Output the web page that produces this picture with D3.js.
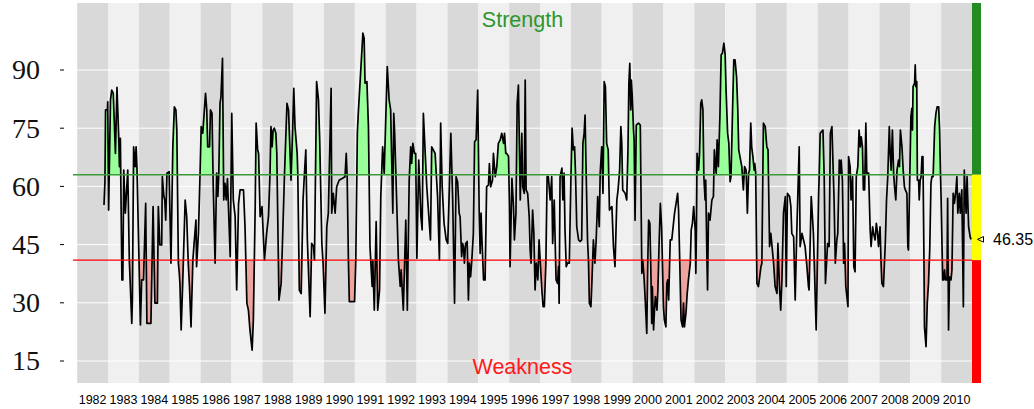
<!DOCTYPE html>
<html><head><meta charset="utf-8">
<script src="https://cdn.jsdelivr.net/npm/d3@7"></script>
<style>html,body{margin:0;padding:0;background:#fff;}svg{display:block;}</style>
</head><body>
<svg id="chart" width="1034" height="409"></svg>
<script>
// ---------- data ----------
const years = d3.range(1982, 2011);
const yTicks = [15, 30, 45, 60, 75, 90];
const strengthLevel = 63;
const weaknessLevel = 41;
const lastValue = 46.35;
const topLabel = "Strength";
const bottomLabel = "Weakness";

// [decimal year, value]
const seg1982 = [[1982.87,55.2],[1982.90,61.2],[1982.92,79.7],[1982.98,79.7],[1982.99,81.8],[1983.02,53.9],[1983.08,82.3],[1983.12,84.8],[1983.17,84.0],[1983.24,68.5],[1983.29,85.5],[1983.35,72.0],[1983.37,65.1],[1983.40,72.4],[1983.45,35.9],[1983.48,35.9],[1983.51,64.2],[1983.56,53.1],[1983.64,64.2],[1983.69,41.0],[1983.77,24.7],[1983.79,30.7],[1983.83,70.2],[1983.88,65.1],[1983.91,70.2],[1983.94,64.2],[1984.05,24.3],[1984.09,35.9],[1984.15,35.9],[1984.19,47.0],[1984.22,55.6],[1984.26,24.7],[1984.39,24.7],[1984.46,54.8],[1984.52,29.9],[1984.60,29.9],[1984.63,54.8],[1984.68,44.9],[1984.74,44.9],[1984.76,62.5],[1984.81,57.4],[1984.84,56.5],[1984.87,51.3],[1984.91,63.4],[1984.98,63.8],[1985.04,40.2],[1985.10,70.2],[1985.15,80.5],[1985.20,79.7]];
const seg1985 = [[1985.23,74.5],[1985.28,40.2],[1985.31,37.6],[1985.33,35.0],[1985.37,23.0],[1985.42,35.0],[1985.50,56.5],[1985.55,52.2],[1985.60,40.2],[1985.64,34.2],[1985.69,23.8],[1985.75,41.0],[1985.79,45.3],[1985.85,51.3],[1985.87,39.3],[1985.93,47.9],[1985.98,62.5],[1986.02,75.4],[1986.07,73.7],[1986.16,84.0],[1986.20,79.7],[1986.23,70.2],[1986.29,70.2],[1986.32,79.7],[1986.37,78.8],[1986.41,59.9],[1986.47,40.2],[1986.52,63.4],[1986.56,57.4],[1986.59,63.4],[1986.63,81.4],[1986.66,83.1],[1986.71,93.0],[1986.75,56.5],[1986.79,60.8],[1986.83,56.5],[1986.87,62.0],[1986.96,41.9],[1987.01,78.8],[1987.06,56.5],[1987.12,52.2],[1987.17,33.3],[1987.23,55.6],[1987.28,59.1],[1987.39,59.1],[1987.44,49.6],[1987.50,29.9],[1987.55,28.1],[1987.60,23.0],[1987.67,17.8],[1987.71,25.6],[1987.77,54.8],[1987.80,76.3],[1987.85,69.4],[1987.88,68.5],[1987.93,52.2],[1987.99,54.8],[1988.07,41.0]];
const seg1988 = [[1988.14,47.9],[1988.20,52.2],[1988.25,63.4],[1988.28,75.4],[1988.32,70.2],[1988.35,74.5],[1988.39,75.0],[1988.44,73.7],[1988.47,68.5],[1988.54,30.7],[1988.61,35.0],[1988.65,44.5],[1988.72,63.4],[1988.80,81.4],[1988.85,79.7],[1988.93,61.6],[1988.98,73.7],[1989.02,85.3],[1989.06,75.4],[1989.13,68.5],[1989.15,63.4],[1989.20,33.3],[1989.26,32.4],[1989.32,56.5],[1989.36,62.5],[1989.41,69.4],[1989.46,46.2],[1989.55,26.4],[1989.60,45.3],[1989.66,44.5],[1989.69,41.0],[1989.76,87.0],[1989.82,82.3],[1989.86,72.0],[1989.93,45.3],[1989.97,40.2],[1990.03,27.3],[1990.09,49.6],[1990.14,53.1],[1990.23,85.3],[1990.25,53.1],[1990.30,58.2],[1990.36,53.1],[1990.41,59.9],[1990.49,61.6],[1990.60,62.1],[1990.68,62.5],[1990.72,68.5],[1990.75,62.5],[1990.79,41.0],[1990.82,30.3],[1990.99,30.3],[1991.03,41.0],[1991.08,73.7],[1991.11,78.8],[1991.26,99.5]];
const seg1991 = [[1991.30,98.2],[1991.33,86.6],[1991.39,87.0],[1991.44,75.4],[1991.49,44.5],[1991.56,34.2],[1991.58,41.0],[1991.63,28.1],[1991.69,50.9],[1991.74,28.1],[1991.80,33.3],[1991.84,57.4],[1991.90,70.2],[1991.95,63.4],[1992.05,90.9],[1992.11,82.3],[1992.16,79.7],[1992.23,53.1],[1992.26,78.8],[1992.29,73.7],[1992.41,41.0],[1992.47,34.2],[1992.50,38.5],[1992.57,28.1],[1992.65,51.3],[1992.70,28.1],[1992.76,61.6],[1992.81,70.2],[1992.84,65.9],[1992.88,71.1],[1992.93,68.5],[1992.97,68.5],[1993.01,41.5],[1993.07,66.8],[1993.14,52.2],[1993.18,48.8],[1993.22,78.8],[1993.33,59.9],[1993.45,46.2],[1993.49,70.2],[1993.60,68.5],[1993.68,57.4],[1993.74,41.0],[1993.78,76.3],[1993.83,59.9],[1993.89,50.5],[1993.96,46.2],[1994.01,45.3],[1994.06,59.1],[1994.11,73.7],[1994.17,56.5],[1994.23,29.9]];
const seg1994 = [[1994.28,62.5],[1994.33,61.2],[1994.38,53.1],[1994.41,52.2],[1994.46,41.9],[1994.49,45.3],[1994.52,44.5],[1994.55,40.2],[1994.59,45.3],[1994.64,45.8],[1994.68,30.7],[1994.71,40.2],[1994.75,36.7],[1994.79,41.0],[1994.84,47.9],[1994.88,71.5],[1994.93,72.0],[1994.98,84.8],[1995.03,53.1],[1995.06,42.7],[1995.09,53.1],[1995.11,47.9],[1995.17,35.9],[1995.22,35.9],[1995.27,59.9],[1995.33,60.4],[1995.36,65.9],[1995.40,59.9],[1995.46,61.6],[1995.49,68.5],[1995.55,62.5],[1995.60,65.1],[1995.65,71.1],[1995.71,72.0],[1995.76,73.7],[1995.82,71.1],[1995.85,73.7],[1995.89,68.5],[1995.92,68.5],[1995.98,67.7],[1996.01,54.8],[1996.03,39.3],[1996.09,62.1],[1996.14,54.8],[1996.17,46.2],[1996.22,53.1],[1996.26,81.4],[1996.30,86.1],[1996.36,56.5],[1996.41,73.7],[1996.44,59.9],[1996.49,58.2],[1996.52,87.4],[1996.55,59.1],[1996.60,58.2],[1996.65,52.2],[1996.68,43.6],[1996.71,40.2],[1996.76,53.9],[1996.80,47.9],[1996.84,33.3],[1996.88,40.2],[1996.93,35.9],[1996.97,46.2],[1997.01,40.2],[1997.06,33.3],[1997.10,29.0],[1997.14,29.0],[1997.19,40.2],[1997.23,62.5],[1997.27,62.5]];
const seg1997 = [[1997.33,56.5],[1997.38,62.5],[1997.41,45.3],[1997.46,56.5],[1997.49,46.2],[1997.52,35.9],[1997.57,35.0],[1997.60,39.3],[1997.62,29.9],[1997.65,62.5],[1997.71,64.7],[1997.74,56.5],[1997.78,63.4],[1997.81,48.8],[1997.85,39.3],[1997.89,40.2],[1997.95,40.2],[1998.00,61.6],[1998.04,75.0],[1998.08,69.4],[1998.12,70.2],[1998.15,63.4],[1998.19,49.6],[1998.25,46.2],[1998.30,45.8],[1998.35,46.2],[1998.39,71.1],[1998.43,73.7],[1998.46,78.4],[1998.49,65.9],[1998.54,46.2],[1998.57,41.0],[1998.60,29.9],[1998.65,29.0],[1998.68,35.0],[1998.73,46.2],[1998.78,40.2],[1998.82,46.2],[1998.87,57.4],[1998.92,49.6],[1998.95,63.4],[1999.00,70.2],[1999.04,58.2],[1999.08,87.0],[1999.12,85.7],[1999.16,71.1],[1999.21,69.4],[1999.25,53.9],[1999.33,54.8],[1999.38,44.5],[1999.43,39.3],[1999.49,56.5],[1999.53,59.1],[1999.58,64.2],[1999.62,75.4],[1999.65,71.1],[1999.68,59.1],[1999.76,58.2],[1999.81,56.5],[1999.85,69.4],[1999.88,86.6],[1999.91,91.7],[1999.94,79.7],[1999.96,87.4],[1999.99,83.1],[2000.03,74.5],[2000.05,72.0],[2000.08,51.3],[2000.12,75.8],[2000.19,76.3],[2000.25,75.8],[2000.30,37.6],[2000.33,41.0],[2000.37,36.7]];
const seg2000 = [[2000.41,30.7],[2000.46,22.1],[2000.49,39.3],[2000.52,51.3],[2000.56,50.5],[2000.59,39.3],[2000.62,24.7],[2000.64,34.2],[2000.68,23.0],[2000.71,28.1],[2000.74,31.6],[2000.79,28.1],[2000.82,33.3],[2000.86,45.3],[2000.90,55.6],[2000.94,49.6],[2000.97,39.3],[2001.00,29.0],[2001.03,25.6],[2001.08,23.8],[2001.11,35.0],[2001.14,35.9],[2001.17,30.7],[2001.22,46.2],[2001.27,46.2],[2001.36,53.1],[2001.41,55.6],[2001.46,58.2],[2001.49,53.9],[2001.53,40.2],[2001.57,25.6],[2001.62,23.8],[2001.65,29.9],[2001.68,23.8],[2001.73,27.3],[2001.77,32.4],[2001.81,35.9],[2001.87,40.2],[2001.90,48.8],[2001.94,50.5],[2001.98,54.8],[2002.03,48.8],[2002.05,37.6],[2002.07,49.6],[2002.09,68.5],[2002.14,64.2],[2002.17,68.5],[2002.21,81.4],[2002.24,82.3],[2002.28,79.7],[2002.31,62.5],[2002.35,56.5],[2002.37,61.6],[2002.41,41.0],[2002.43,33.3],[2002.46,53.1],[2002.51,51.3],[2002.57,56.5],[2002.62,57.4],[2002.65,69.4],[2002.68,65.9],[2002.71,63.4],[2002.74,72.0],[2002.78,65.1],[2002.83,78.0],[2002.87,93.9],[2002.91,94.3],[2002.96,96.9],[2003.00,93.9],[2003.03,84.8],[2003.08,73.7],[2003.12,71.1],[2003.16,61.2],[2003.19,62.5],[2003.24,79.7],[2003.28,92.6],[2003.32,92.6],[2003.37,88.3],[2003.41,79.7],[2003.44,69.4]];
const seg2003 = [[2003.54,65.1],[2003.59,59.1],[2003.63,65.1],[2003.68,64.2],[2003.72,53.1],[2003.76,63.4],[2003.79,64.2],[2003.83,76.3],[2003.86,70.2],[2003.90,67.7],[2003.94,64.2],[2003.96,65.9],[2003.99,63.4],[2004.03,35.0],[2004.08,34.2],[2004.16,39.3],[2004.19,40.2],[2004.24,76.3],[2004.30,75.4],[2004.35,70.2],[2004.39,69.4],[2004.44,44.5],[2004.48,47.9],[2004.57,40.2],[2004.62,34.2],[2004.68,32.4],[2004.71,45.3],[2004.76,34.2],[2004.80,28.1],[2004.84,35.9],[2004.89,53.1],[2004.95,57.4],[2004.98,34.2],[2005.02,58.2],[2005.09,57.4],[2005.13,54.8],[2005.16,47.9],[2005.22,47.0],[2005.27,30.7],[2005.32,47.9],[2005.40,70.2],[2005.43,44.5],[2005.49,47.9],[2005.54,46.2],[2005.59,44.5],[2005.65,39.3],[2005.70,34.2],[2005.72,33.3],[2005.79,57.4],[2005.86,47.9],[2005.95,23.0],[2006.03,58.2],[2006.05,63.4],[2006.08,73.7],[2006.12,74.1],[2006.17,74.5],[2006.21,62.5],[2006.25,35.0],[2006.32,45.3],[2006.37,44.5],[2006.41,73.7],[2006.46,75.4],[2006.53,56.5]];
const seg2006 = [[2006.57,40.2],[2006.62,46.2],[2006.65,47.9],[2006.70,66.8],[2006.73,63.4],[2006.76,66.8],[2006.80,61.6],[2006.84,40.2],[2006.87,45.3],[2006.91,34.2],[2006.98,29.0],[2007.00,67.7],[2007.05,65.1],[2007.08,56.5],[2007.13,62.5],[2007.17,39.3],[2007.21,38.0],[2007.25,62.5],[2007.30,65.1],[2007.34,74.5],[2007.38,70.2],[2007.41,72.8],[2007.45,70.2],[2007.48,59.1],[2007.52,59.1],[2007.56,76.3],[2007.59,63.4],[2007.65,63.4],[2007.70,48.8],[2007.73,44.5],[2007.78,49.6],[2007.81,47.9],[2007.86,46.2],[2007.90,50.5],[2007.94,47.9],[2007.97,44.5],[2008.02,49.6],[2008.05,41.0],[2008.08,35.0],[2008.13,34.2],[2008.19,45.3],[2008.23,56.5],[2008.27,62.5],[2008.32,75.4],[2008.35,68.5],[2008.38,64.2],[2008.42,74.5],[2008.46,63.4],[2008.49,59.9],[2008.53,56.5],[2008.57,64.2],[2008.62,66.8],[2008.65,65.1],[2008.68,74.5],[2008.73,70.2],[2008.77,64.2],[2008.81,59.9]];
const seg2008 = [[2008.84,59.1],[2008.89,58.2],[2008.92,44.5],[2008.94,43.6],[2008.99,65.1],[2009.02,78.0],[2009.05,80.1],[2009.07,74.5],[2009.09,85.7],[2009.14,86.6],[2009.16,91.3],[2009.18,85.7],[2009.21,87.0],[2009.23,61.6],[2009.27,61.6],[2009.29,56.5],[2009.32,61.6],[2009.35,62.5],[2009.38,67.7],[2009.41,67.7],[2009.44,43.6],[2009.46,23.8],[2009.51,18.7],[2009.55,29.9],[2009.59,35.0],[2009.63,43.6],[2009.67,60.8],[2009.70,62.5],[2009.74,62.5],[2009.79,75.4],[2009.83,78.8],[2009.87,80.5],[2009.92,80.5],[2009.95,74.5],[2009.98,62.9],[2010.00,56.5],[2010.05,35.9],[2010.08,35.9],[2010.11,38.5],[2010.14,35.9],[2010.19,35.9],[2010.21,56.9],[2010.24,23.0],[2010.27,36.7],[2010.32,35.9],[2010.35,38.5],[2010.39,58.2],[2010.43,55.6],[2010.48,59.1],[2010.51,62.5],[2010.54,53.1],[2010.59,58.2],[2010.62,53.1],[2010.67,59.1],[2010.72,29.0],[2010.75,64.2],[2010.78,58.2],[2010.81,53.1],[2010.84,62.5],[2010.89,49.6],[2010.94,47.0],[2010.97,46.35]];

const series = [].concat(seg1982, seg1985, seg1988, seg1991, seg1994, seg1997, seg2000, seg2003, seg2006, seg2008);

// ---------- layout ----------
const svg = d3.select("#chart");
const plot = {left: 73, right: 972, top: 3, bottom: 383};
const x = d3.scaleLinear().domain([1981.865, 2011.0]).range([plot.left, plot.right]);
const y = d3.scaleLinear().domain([15, 90]).range([361, 70]);

// year bands
svg.append("g").selectAll("rect").data(years).join("rect")
  .attr("x", d => Math.max(x(d), plot.left))
  .attr("width", d => Math.min(x(d + 1), plot.right) - Math.max(x(d), plot.left))
  .attr("y", plot.top).attr("height", plot.bottom - plot.top)
  .attr("fill", (d, i) => i % 2 === 0 ? "#d9d9d9" : "#f0f0f0");

// horizontal grid
svg.append("g").selectAll("line").data(yTicks).join("line")
  .attr("x1", plot.left).attr("x2", plot.right)
  .attr("y1", d => y(d)).attr("y2", d => y(d))
  .attr("stroke", "#fff").attr("stroke-width", 1);

// clip paths
const defs = svg.append("defs");
defs.append("clipPath").attr("id", "clipUp").append("rect")
  .attr("x", plot.left).attr("width", plot.right - plot.left)
  .attr("y", plot.top).attr("height", y(strengthLevel) - plot.top);
defs.append("clipPath").attr("id", "clipDown").append("rect")
  .attr("x", plot.left).attr("width", plot.right - plot.left)
  .attr("y", y(weaknessLevel)).attr("height", plot.bottom - y(weaknessLevel));

const areaUp = d3.area().x(d => x(d[0])).y0(y(strengthLevel)).y1(d => y(d[1]));
const areaDown = d3.area().x(d => x(d[0])).y0(y(weaknessLevel)).y1(d => y(d[1]));
svg.append("path").datum(series).attr("d", areaUp).attr("fill", "#99ff99").attr("clip-path", "url(#clipUp)");
svg.append("path").datum(series).attr("d", areaDown).attr("fill", "#eea49e").attr("clip-path", "url(#clipDown)");

// series line
const line = d3.line().x(d => x(d[0])).y(d => y(d[1]));
svg.append("path").datum(series).attr("d", line)
  .attr("fill", "none").attr("stroke", "#000").attr("stroke-width", 1.7).attr("stroke-linejoin", "round");

// threshold lines
svg.append("line").attr("x1", plot.left).attr("x2", plot.right)
  .attr("y1", y(strengthLevel)).attr("y2", y(strengthLevel))
  .attr("stroke", "#3a9a3a").attr("stroke-width", 1.4);
svg.append("line").attr("x1", plot.left).attr("x2", plot.right)
  .attr("y1", y(weaknessLevel)).attr("y2", y(weaknessLevel))
  .attr("stroke", "#ff0000").attr("stroke-width", 1.2);

// colour bar
const barX = plot.right, barW = 9;
svg.append("rect").attr("x", barX).attr("width", barW).attr("y", plot.top).attr("height", y(strengthLevel) - plot.top).attr("fill", "#228b22");
svg.append("rect").attr("x", barX).attr("width", barW).attr("y", y(strengthLevel)).attr("height", y(weaknessLevel) - y(strengthLevel)).attr("fill", "#ffff00");
svg.append("rect").attr("x", barX).attr("width", barW).attr("y", y(weaknessLevel)).attr("height", plot.bottom - y(weaknessLevel)).attr("fill", "#ff0000");

// last value marker
const ly = y(lastValue);
svg.append("path").attr("d", `M${barX + 5.5},${ly} L${barX + 11.5},${ly - 2.8} L${barX + 11.5},${ly + 2.8} Z`)
  .attr("fill", "none").attr("stroke", "#000").attr("stroke-width", 1);
svg.append("text").attr("x", barX + 21).attr("y", ly + 5.8)
  .attr("font-family", "Liberation Sans, Arial, sans-serif").attr("font-size", 16).attr("fill", "#000")
  .text(lastValue.toFixed(2));

// y axis ticks + labels
const yAx = svg.append("g");
yAx.selectAll("line").data(yTicks).join("line")
  .attr("x1", 60).attr("x2", 64).attr("y1", d => y(d)).attr("y2", d => y(d))
  .attr("stroke", "#000").attr("stroke-width", 1);
yAx.selectAll("text").data(yTicks).join("text")
  .attr("x", 40).attr("y", d => y(d) + 9.3)
  .attr("text-anchor", "end")
  .attr("font-family", "Liberation Serif, Times New Roman, serif").attr("font-size", 28).attr("fill", "#111")
  .text(d => d);

// x labels
svg.append("g").selectAll("text").data(years).join("text")
  .attr("x", d => x(d + 0.5)).attr("y", 404)
  .attr("text-anchor", "middle")
  .attr("font-family", "Liberation Sans, Arial, sans-serif").attr("font-size", 12.5).attr("fill", "#000")
  .text(d => d);

// Strength / Weakness
svg.append("text").attr("x", (plot.left + plot.right) / 2).attr("y", 27)
  .attr("text-anchor", "middle").attr("font-family", "Liberation Sans, Arial, sans-serif")
  .attr("font-size", 21.5).attr("fill", "#2e962e").text(topLabel);
svg.append("text").attr("x", (plot.left + plot.right) / 2).attr("y", 374)
  .attr("text-anchor", "middle").attr("font-family", "Liberation Sans, Arial, sans-serif")
  .attr("font-size", 21.5).attr("fill", "#ff1a1a").text(bottomLabel);
</script>
</body></html>
